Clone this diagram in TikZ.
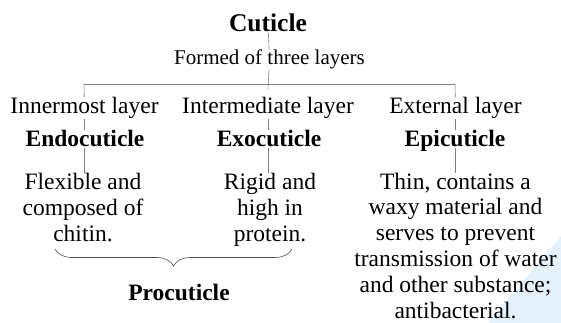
\documentclass[tikz,border=0pt]{standalone}
\usepackage{fontspec}
\setmainfont{Liberation Serif}
\usetikzlibrary{positioning,decorations.pathreplacing}
\definecolor{pageblue}{RGB}{228,240,250}
\begin{document}
\begin{tikzpicture}[x=1pt,y=-1pt,
  txt/.style={inner sep=0pt,align=center,font=\fontsize{23.5}{25.8}\selectfont},
  head_txt/.style={txt,font=\fontsize{23.5}{25.8}\selectfont\bfseries},
  link/.style={draw=black!50,line width=0.6pt}]
\useasboundingbox (0,0) rectangle (561,323);
		\fill[pageblue] (488,323) -- (561,236) -- (561,323) -- cycle;

		\node[head_txt,font=\fontsize{25.5}{28}\selectfont\bfseries,anchor=base] (cut) at (268,32) {Cuticle};
		\node[txt,font=\fontsize{21}{24}\selectfont,anchor=base] (form) at (269.5,65) {Formed of three layers};
		\coordinate (bar) at (268,89);
		\coordinate (barl) at (84,84);
		\coordinate (barr) at (455,84);

		\node[txt,anchor=base] (inner) at (84.5,114) {Innermost layer};
		\node[txt,anchor=base] (inter) at (268,114) {Intermediate layer};
		\node[txt,anchor=base] (outer) at (455.5,114) {External layer};

		\node[head_txt,anchor=base] (endo) at (85,146.5) {Endocuticle};
		\node[head_txt,anchor=base] (exo) at (269,146.5) {Exocuticle};
		\node[head_txt,anchor=base] (epi) at (455,146.5) {Epicuticle};

		\node[txt,anchor=north] (flex) at (83,173) {Flexible and\\composed of\\chitin.};
		\node[txt,anchor=north] (rigid) at (270,173) {Rigid and\\high in\\protein.};
		\node[txt,anchor=north] (thin) at (455.5,172.5) {Thin, contains a\\waxy material and\\serves to prevent\\transmission of water\\and other substance;\\antibacterial.};

		\node[head_txt,anchor=base] (pro) at (179,300) {Procuticle};

		\draw[link] (cut) -- (form);
		\draw[link] (form) -- (bar);
		\draw[link] (barl) -- (barr);
		\draw[link] (barl) -- (inner);
		\draw[link] (barr) -- (outer);
		\draw[link] (inner) -- (inner|-endo.north);
		\draw[link] (inter) -- (inter|-exo.north);
		\draw[link] (outer) -- (outer|-epi.north);
		\draw[link] (inner|-endo.base) ++(0,2) -- (inner|-flex.north);
		\draw[link] (inter|-exo.base) ++(0,2) -- (inter|-rigid.north);
		\draw[link] (outer|-epi.base) ++(0,2) -- (outer|-thin.north);
		\draw[link,draw=black!70,decorate,decoration={brace,mirror,amplitude=17pt}] (55,249) -- (292,249);
		\end{tikzpicture}
\end{document}
